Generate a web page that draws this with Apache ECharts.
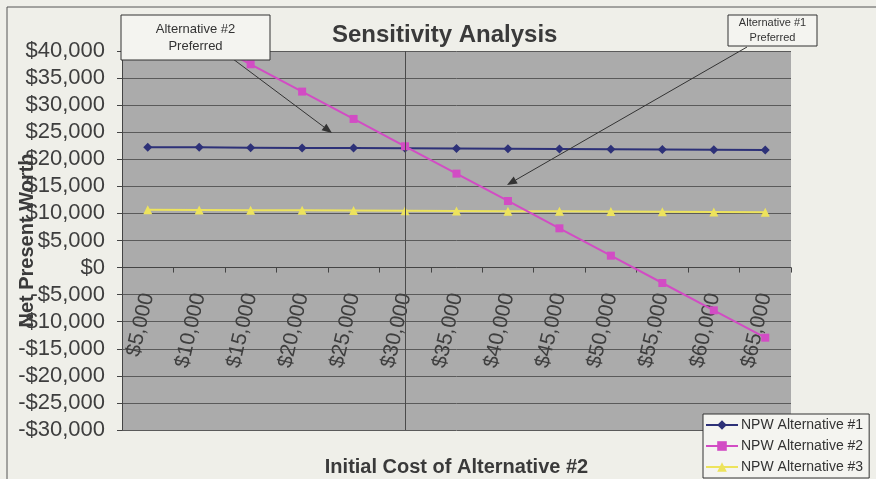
<!DOCTYPE html>
<html>
<head>
<meta charset="utf-8">
<script src="https://cdn.jsdelivr.net/npm/echarts@6/dist/echarts.min.js"></script>
<style>
  html, body { margin: 0; padding: 0; background: #EFEFE9; }
  #chart { width: 876px; height: 479px; }
</style>
</head>
<body>
<div id="chart"></div>
<script>
// Initial cost of alternative #2 (category axis)
const categories = ['$5,000', '$10,000', '$15,000', '$20,000', '$25,000', '$30,000', '$35,000',
                    '$40,000', '$45,000', '$50,000', '$55,000', '$60,000', '$65,000'];

// Net present worth of each alternative
const npwAlt1 = [22200, 22200, 22150, 22100, 22100, 22050, 22000, 21950, 21900, 21850, 21800, 21750, 21700];
const npwAlt2 = [47650, 42600, 37550, 32500, 27450, 22400, 17350, 12300, 7250, 2200, -2850, -7900, -12950];
const npwAlt3 = [10700, 10650, 10600, 10600, 10550, 10500, 10450, 10400, 10400, 10350, 10300, 10250, 10200];

const seriesNames = ['NPW Alternative #1', 'NPW Alternative #2', 'NPW Alternative #3'];
const yMin = -30000, yMax = 40000, yStep = 5000;

const FONT = 'Arial, "Liberation Sans", sans-serif';

// plot box
const GRID = { left: 122, right: 85, top: 51, bottom: 49 };
const CHART_H = 479;
// the category axis sits on the $0 line
const plotH = CHART_H - GRID.top - GRID.bottom;
const zeroOffset = plotH * (0 - yMin) / (yMax - yMin);

function money(v) {
  const s = '$' + Math.abs(v).toLocaleString('en-US');
  return v < 0 ? '-' + s : s;
}

// arrow = line + triangular head at (x2, y2)
function arrow(x1, y1, x2, y2) {
  const dx = x2 - x1, dy = y2 - y1;
  const len = Math.sqrt(dx * dx + dy * dy);
  const ux = dx / len, uy = dy / len;
  const hl = 10, hw = 4;
  const bx = x2 - ux * hl, by = y2 - uy * hl;
  return [
    { type: 'line', z: 100, shape: { x1: x1, y1: y1, x2: bx, y2: by },
      style: { stroke: '#333', lineWidth: 1 } },
    { type: 'polygon', z: 100,
      shape: { points: [[x2, y2], [bx - uy * hw, by + ux * hw], [bx + uy * hw, by - ux * hw]] },
      style: { fill: '#333' } }
  ];
}

function callout(x, y, w, h, lines, size) {
  return [
    { type: 'rect', z: 101, shape: { x: x, y: y, width: w, height: h },
      style: { fill: '#F4F4F0', stroke: '#333', lineWidth: 1 } },
    { type: 'text', z: 102, x: x + w / 2, y: y + h / 2,
      style: { text: lines.join('\n'), fill: '#333', font: size + 'px ' + FONT,
               align: 'center', verticalAlign: 'middle', lineHeight: size + 4 } }
  ];
}

const chart = echarts.init(document.getElementById('chart'));

chart.setOption({
  backgroundColor: '#EFEFE9',
  animation: false,
  title: {
    text: 'Sensitivity Analysis',
    left: 327, top: 18,
    textStyle: { fontFamily: FONT, fontSize: 24, fontWeight: 'bold', color: '#3a3a3a' }
  },
  grid: {
    left: GRID.left, right: GRID.right, top: GRID.top, bottom: GRID.bottom,
    containLabel: false, outerBoundsMode: 'none',
    show: true, backgroundColor: '#ABABAB', borderWidth: 0
  },
  legend: {
    orient: 'vertical', left: 703, top: 414,
    padding: [4, 6, 4, 2], itemGap: 7, itemWidth: 32, itemHeight: 12,
    backgroundColor: '#F4F4F0', borderColor: '#333', borderWidth: 1,
    textStyle: { fontFamily: FONT, fontSize: 14, color: '#333', padding: [0, 0, 0, -2] },
    data: seriesNames
  },
  xAxis: {
    type: 'category',
    data: categories,
    boundaryGap: true,
    position: 'bottom',
    offset: -zeroOffset,
    name: 'Initial Cost of Alternative #2',
    nameLocation: 'middle', nameGap: 190, nameMoveOverlap: false,
    nameTextStyle: { fontFamily: FONT, fontSize: 20, fontWeight: 'bold', color: '#3a3a3a' },
    axisLine: { onZero: false, lineStyle: { color: '#444', width: 1 } },
    axisTick: { show: true, length: 5, lineStyle: { color: '#444' } },
    axisLabel: { rotate: 77, margin: 26, fontFamily: FONT, fontSize: 21, color: '#3e3e3e',
                 interval: 0 },
    splitLine: { show: false }
  },
  yAxis: {
    type: 'value',
    min: yMin, max: yMax, interval: yStep,
    name: 'Net Present Worth',
    nameLocation: 'middle', nameGap: 85, nameRotate: 90, nameMoveOverlap: false,
    nameTextStyle: { fontFamily: FONT, fontSize: 20, fontWeight: 'bold', color: '#3a3a3a' },
    axisLine: { show: true, lineStyle: { color: '#444', width: 1 } },
    axisTick: { show: true, length: 5, lineStyle: { color: '#444' } },
    axisLabel: { margin: 17, fontFamily: FONT, fontSize: 22, color: '#3e3e3e', formatter: money },
    splitLine: { show: true, lineStyle: { color: '#5a5a5a', width: 1 } }
  },
  series: [
    {
      name: seriesNames[0], type: 'line', data: npwAlt1,
      symbol: 'diamond', symbolSize: 9,
      lineStyle: { color: '#2D3178', width: 2 },
      itemStyle: { color: '#2D3178' },
      markLine: {
        silent: true, symbol: 'none', label: { show: false },
        lineStyle: { color: '#4a4a4a', width: 1, type: 'solid' },
        data: [{ xAxis: '$30,000' }]
      },
      z: 3
    },
    {
      name: seriesNames[1], type: 'line', data: npwAlt2,
      symbol: 'rect', symbolSize: 8,
      lineStyle: { color: '#D24CC4', width: 2 },
      itemStyle: { color: '#D24CC4' },
      z: 4
    },
    {
      name: seriesNames[2], type: 'line', data: npwAlt3,
      symbol: 'triangle', symbolSize: 9,
      lineStyle: { color: '#EDE35C', width: 2 },
      itemStyle: { color: '#EDE35C' },
      z: 3
    }
  ],
  graphic: [
    { type: 'rect', z: 0, silent: true, shape: { x: 7, y: 7, width: 900, height: 500 },
      style: { fill: 'none', stroke: '#555', lineWidth: 1 } }
  ]
    .concat(arrow(233, 59, 332, 133))
    .concat(arrow(747, 47, 507, 185))
    .concat(callout(121, 15, 149, 45, ['Alternative #2', 'Preferred'], 13))
    .concat(callout(728, 15, 89, 31, ['Alternative #1', 'Preferred'], 11))
});
</script>
</body>
</html>
